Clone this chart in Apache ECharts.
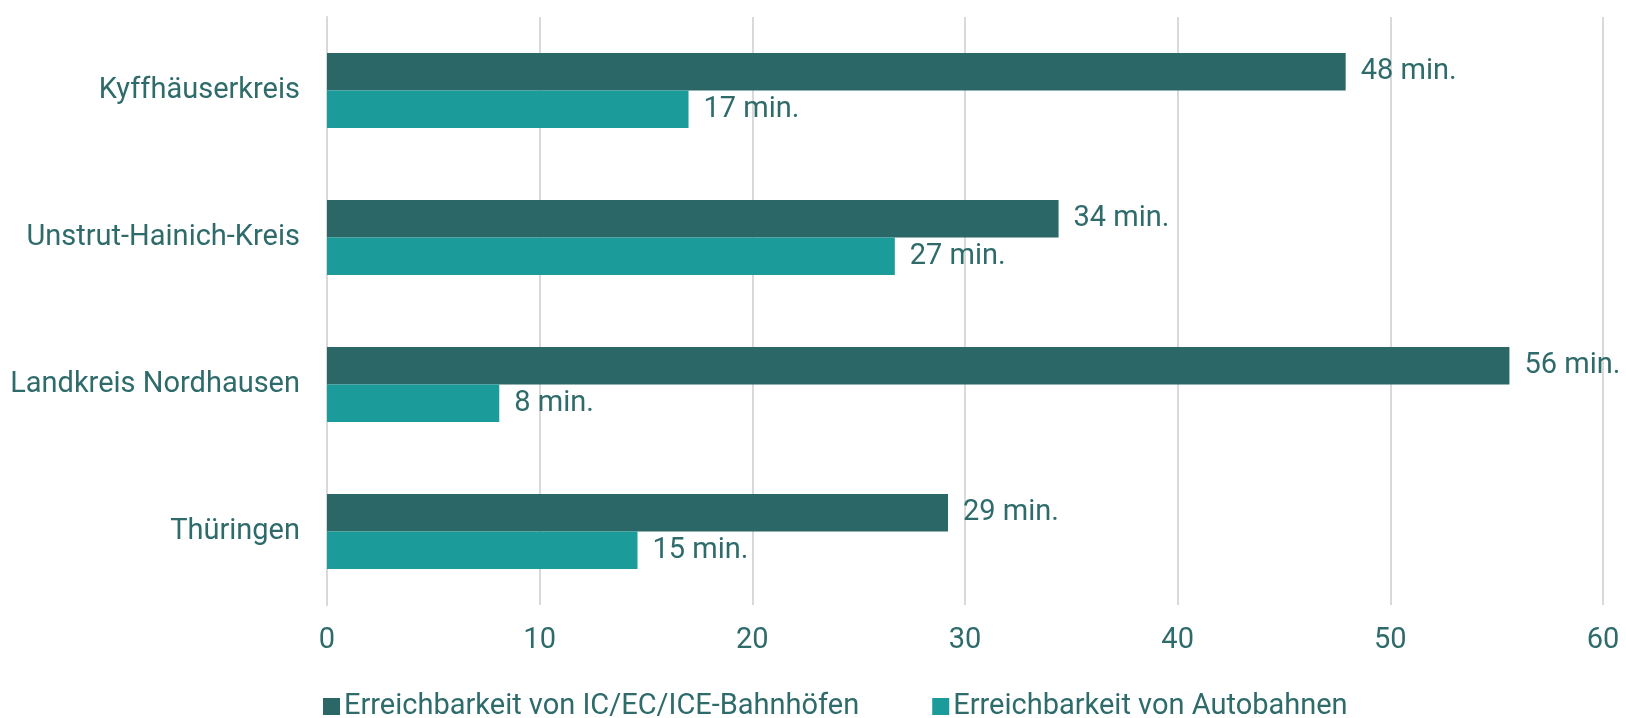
<!DOCTYPE html>
<html>
<head>
<meta charset="utf-8">
<script src="https://cdn.jsdelivr.net/npm/echarts@6/dist/echarts.min.js"></script>
<style>
html,body{margin:0;padding:0;background:#fff;}
#chart{width:1626px;height:718px;}
</style>
</head>
<body>
<div id="chart"></div>
<script>
const categories = ["Kyffhäuserkreis", "Unstrut-Hainich-Kreis", "Landkreis Nordhausen", "Thüringen"];
const seriesNames = ["Erreichbarkeit von IC/EC/ICE-Bahnhöfen", "Erreichbarkeit von Autobahnen"];
const bahnValues = [47.9, 34.4, 55.6, 29.2];
const autobahnValues = [17.0, 26.7, 8.1, 14.6];
const xTicks = [0, 10, 20, 30, 40, 50, 60];

const textColor = "#2E6B6A";
const font = "Roboto";
const fs = 29;
const chart = echarts.init(document.getElementById("chart"), null, {renderer: "canvas"});
const labelOpt = {
  show: true,
  position: "right",
  distance: 15,
  color: textColor,
  fontFamily: font,
  fontSize: fs,
  formatter: p => Math.round(p.value) + " min."
};
chart.setOption({
  animation: false,
  textStyle: {fontFamily: font},
  grid: {left: 327, right: 23, top: 17, bottom: 113, containLabel: false},
  xAxis: {
    type: "value",
    min: xTicks[0],
    max: xTicks[xTicks.length - 1],
    interval: 10,
    axisLine: {show: false},
    axisTick: {show: false},
    splitLine: {show: true, lineStyle: {color: "#D9D9D9", width: 2}},
    axisLabel: {color: textColor, fontFamily: font, fontSize: fs, margin: 21}
  },
  yAxis: {
    type: "category",
    data: categories,
    inverse: true,
    axisLine: {show: true, lineStyle: {color: "#D9D9D9", width: 2}},
    axisTick: {show: false},
    axisLabel: {color: textColor, fontFamily: font, fontSize: fs, margin: 27}
  },
  legend: {
    bottom: -8,
    left: 318,
    itemWidth: 17,
    itemHeight: 17,
    itemGap: 73,
    icon: "rect",
    textStyle: {color: textColor, fontFamily: font, fontSize: fs, padding: [0, 0, 0, -1]},
    data: seriesNames
  },
  series: [
    {
      name: seriesNames[0],
      type: "bar",
      data: bahnValues,
      barWidth: 37.5,
      barGap: "0%",
      itemStyle: {color: "#2A6766"},
      label: labelOpt,
      z: 3
    },
    {
      name: seriesNames[1],
      type: "bar",
      data: autobahnValues,
      barWidth: 37.5,
      barGap: "0%",
      itemStyle: {color: "#1C9B9B"},
      label: labelOpt,
      z: 3
    }
  ]
});
</script>
</body>
</html>
